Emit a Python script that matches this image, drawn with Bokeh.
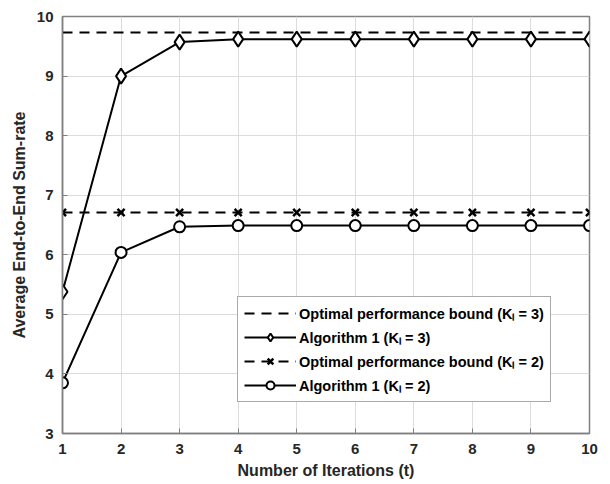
from bokeh.plotting import figure
from bokeh.models import Legend, LegendItem, Range1d, FixedTicker
from bokeh.embed import file_html
from bokeh.resources import INLINE

# Iteration index
iterations = [1, 2, 3, 4, 5, 6, 7, 8, 9, 10]

# Optimal performance bounds (constant over iterations)
bound_k3 = [9.73] * 10
bound_k2 = [6.71] * 10

# Algorithm 1 average end-to-end sum-rate
alg_k3 = [5.38, 9.00, 9.57, 9.62, 9.62, 9.62, 9.62, 9.62, 9.62, 9.62]
alg_k2 = [3.85, 6.04, 6.47, 6.49, 6.49, 6.49, 6.49, 6.49, 6.49, 6.49]

x_ticks = [1, 2, 3, 4, 5, 6, 7, 8, 9, 10]
y_ticks = [3, 4, 5, 6, 7, 8, 9, 10]

FONT = "Liberation Sans"
AXIS_GRAY = "#808080"
TEXT_GRAY = "#262626"

p = figure(
    frame_width=527, frame_height=417,
    min_border_left=62, min_border_right=21, min_border_top=16, min_border_bottom=51,
    x_range=Range1d(1, 10), y_range=Range1d(3, 10),
    output_backend="svg", toolbar_location=None,
    background_fill_color="white", border_fill_color="white",
)

p.outline_line_color = AXIS_GRAY
p.outline_line_width = 1.5

for ax in (p.xaxis[0], p.yaxis[0]):
    ax.axis_line_color = AXIS_GRAY
    ax.axis_line_width = 1.5
    ax.major_tick_line_color = AXIS_GRAY
    ax.major_tick_in = 5
    ax.major_tick_out = 0
    ax.minor_tick_line_color = None
    ax.major_label_text_font = FONT
    ax.major_label_text_font_style = "bold"
    ax.major_label_text_font_size = "15px"
    ax.major_label_text_color = TEXT_GRAY
    ax.axis_label_text_font = FONT
    ax.axis_label_text_font_style = "bold"
    ax.axis_label_text_font_size = "16px"
    ax.axis_label_text_color = TEXT_GRAY

p.xaxis.ticker = FixedTicker(ticks=x_ticks)
p.yaxis.ticker = FixedTicker(ticks=y_ticks)
p.xaxis.axis_label = "Number of Iterations (t)"
p.yaxis.axis_label = "Average End-to-End Sum-rate"
p.xaxis.major_label_standoff = 10
p.xaxis.axis_label_standoff = 5
p.yaxis.major_label_standoff = 9
p.yaxis.axis_label_standoff = 6

p.xgrid.ticker = FixedTicker(ticks=x_ticks)
p.ygrid.ticker = FixedTicker(ticks=y_ticks)
p.grid.grid_line_color = "#dcdcdc"
p.grid.grid_line_width = 1

LW = 2
DASH = "10 7"

r_b3 = p.line(iterations, bound_k3, line_color="black", line_width=LW, line_dash=DASH)

r_a3 = p.line(iterations, alg_k3, line_color="black", line_width=LW)
m_a3 = p.scatter(iterations, alg_k3, marker="diamond", size=15, line_color="black",
                 line_width=2, fill_color="white")

r_b2 = p.line(iterations, bound_k2, line_color="black", line_width=LW, line_dash=DASH)
m_b2 = p.scatter(iterations, bound_k2, marker="x", size=10, line_color="black", line_width=2.5)

r_a2 = p.line(iterations, alg_k2, line_color="black", line_width=LW)
m_a2 = p.scatter(iterations, alg_k2, marker="circle", size=11, line_color="black",
                 line_width=2, fill_color="white")

legend = Legend(
    items=[
        LegendItem(label="Optimal performance bound (Kₗ = 3)", renderers=[r_b3]),
        LegendItem(label="Algorithm 1 (Kₗ = 3)", renderers=[r_a3, m_a3]),
        LegendItem(label="Optimal performance bound (Kₗ = 2)", renderers=[r_b2, m_b2]),
        LegendItem(label="Algorithm 1 (Kₗ = 2)", renderers=[r_a2, m_a2]),
    ],
    location=(175, 31),
    label_text_font=FONT,
    label_text_font_style="bold",
    label_text_font_size="14.5px",
    label_text_color="black",
    glyph_width=52,
    glyph_height=20,
    label_height=20,
    label_standoff=3,
    spacing=4,
    padding=6,
    margin=0,
    border_line_color="#555555",
    border_line_width=1.5,
    background_fill_color="white",
    background_fill_alpha=1,
)
p.add_layout(legend, "center")

open("out.html", "w").write(file_html(p, INLINE))
